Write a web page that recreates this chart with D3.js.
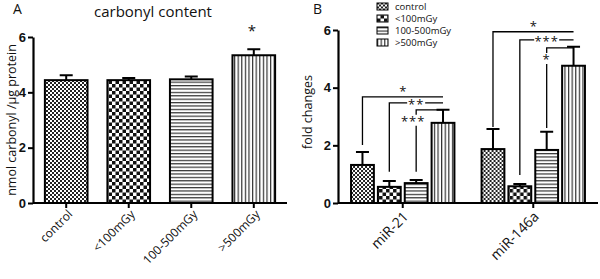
<!DOCTYPE html>
<html>
<head>
<meta charset="utf-8">
<script src="https://cdn.jsdelivr.net/npm/d3@7"></script>
<style>
  body { margin: 0; background: #fff; }
  text { font-family: "Open Sans", "Liberation Sans", sans-serif; fill: #111; }
</style>
</head>
<body>
<div id="chart-area"></div>
<script>
// ---- data ----
const doses = ["control", "<100mGy", "100-500mGy", ">500mGy"]
const carbonylMean = [4.44, 4.44, 4.47, 5.34]
const carbonylErr = [0.18, 0.08, 0.10, 0.22]
const carbonylSig = ["", "", "", "*"]

const genes = ["miR-21", "miR-146a"]
const foldMean = [[1.32, 0.56, 0.69, 2.78], [1.87, 0.58, 1.84, 4.76]]
const foldErr = [[0.45, 0.20, 0.11, 0.45], [0.70, 0.08, 0.63, 0.66]]
// brackets: gene, left bar, right bar, level (y units), drop end (y units), label, label place
const bracketGene = [0, 0, 0, 1, 1, 1]
const bracketFrom = [0, 1, 2, 0, 1, 2]
const bracketTo = [3, 3, 3, 3, 3, 3]
const bracketLevel = [3.68, 3.47, 3.23, 5.94, 5.66, 5.38]
const bracketDrop = [2.01, 1.08, 1.08, 2.64, 0.97, 2.60]
const bracketLabel = ["*", "**", "***", "*", "***", "*"]
const bracketPlace = ["above", "inline", "side", "above", "inline", "side"]

const yTicks = [0, 2, 4, 6]
const patterns = ["fine", "checker", "hlines", "vlines"]

const svg = d3.select("#chart-area").append("svg")
  .attr("width", 600).attr("height", 279)

// ---- patterns ----
const defs = svg.append("defs")
const pFine = defs.append("pattern").attr("id", "fine").attr("patternUnits", "userSpaceOnUse")
  .attr("width", 4).attr("height", 4)
pFine.append("rect").attr("width", 4).attr("height", 4).attr("fill", "#fff")
pFine.append("rect").attr("width", 2).attr("height", 2).attr("fill", "#222")
pFine.append("rect").attr("x", 2).attr("y", 2).attr("width", 2).attr("height", 2).attr("fill", "#222")

const pCheck = defs.append("pattern").attr("id", "checker").attr("patternUnits", "userSpaceOnUse")
  .attr("width", 7).attr("height", 7)
pCheck.append("rect").attr("width", 7).attr("height", 7).attr("fill", "#fff")
pCheck.append("rect").attr("width", 3.5).attr("height", 3.5).attr("fill", "#111")
pCheck.append("rect").attr("x", 3.5).attr("y", 3.5).attr("width", 3.5).attr("height", 3.5).attr("fill", "#111")

const pH = defs.append("pattern").attr("id", "hlines").attr("patternUnits", "userSpaceOnUse")
  .attr("width", 4).attr("height", 3.4)
pH.append("rect").attr("width", 4).attr("height", 3.4).attr("fill", "#fff")
pH.append("rect").attr("width", 4).attr("height", 1.2).attr("fill", "#333")

const pV = defs.append("pattern").attr("id", "vlines").attr("patternUnits", "userSpaceOnUse")
  .attr("width", 3.6).attr("height", 4)
pV.append("rect").attr("width", 3.6).attr("height", 4).attr("fill", "#fff")
pV.append("rect").attr("width", 1.2).attr("height", 4).attr("fill", "#333")

function styleAxis(g) {
  g.selectAll(".domain").attr("stroke", "#000").attr("stroke-width", 2.2)
  g.selectAll(".tick line").attr("stroke", "#000").attr("stroke-width", 2)
}

function yAxisText(g) {
  g.selectAll(".tick text").attr("font-size", 13).attr("font-weight", "bold")
    .style("font-family", "'Liberation Sans', sans-serif").attr("fill", "#111")
}

// ================= Panel A =================
const yA = d3.scaleLinear().domain([0, 6]).range([203, 37])
const xA = d3.scaleBand().domain(doses).range([33, 287]).paddingInner(0.318).paddingOuter(0.19)

const gA = svg.append("g")

gA.selectAll(".barA").data(doses).join("rect")
  .attr("x", d => xA(d))
  .attr("y", (d, i) => yA(carbonylMean[i]))
  .attr("width", xA.bandwidth())
  .attr("height", (d, i) => yA(0) - yA(carbonylMean[i]))
  .attr("fill", (d, i) => `url(#${patterns[i]})`)
  .attr("stroke", "#000").attr("stroke-width", 2)

gA.selectAll(".errA").data(doses).join("path")
  .attr("d", (d, i) => {
    const cx = xA(d) + xA.bandwidth() / 2
    const top = yA(carbonylMean[i] + carbonylErr[i])
    return `M${cx},${yA(carbonylMean[i])}V${top}M${cx - 6.5},${top}H${cx + 6.5}`
  })
  .attr("stroke", "#000").attr("stroke-width", 2).attr("fill", "none")

gA.selectAll(".sigA").data(doses).join("text")
  .attr("x", d => xA(d) + xA.bandwidth() / 2 - 2)
  .attr("y", (d, i) => yA(carbonylMean[i] + carbonylErr[i]) - 13)
  .attr("text-anchor", "middle")
  .attr("font-size", 15)
  .text((d, i) => carbonylSig[i])

gA.append("g")
  .attr("transform", "translate(33,0)")
  .call(d3.axisLeft(yA).tickValues(yTicks).tickFormat(d3.format("d")).tickSize(5).tickSizeOuter(0).tickPadding(2))
  .call(styleAxis)
  .call(yAxisText)

gA.append("g")
  .attr("transform", `translate(0,${yA(0)})`)
  .call(d3.axisBottom(xA).tickSize(5).tickSizeOuter(0))
  .call(styleAxis)
  .call(g => g.select(".domain").attr("d", `M33,0H287`))
  .call(g => g.selectAll(".tick text")
    .attr("font-size", 12)
    .style("font-family", "'Open Sans', sans-serif").attr("fill", "#111")
    .attr("text-anchor", "end")
    .attr("transform", "translate(4,9) rotate(-45)")
    .attr("dy", "0.35em").attr("y", 0).attr("x", 0))

gA.append("text").attr("x", 153).attr("y", 17).attr("text-anchor", "middle")
  .attr("font-size", 15).text("carbonyl content")
gA.append("text").attr("x", 13).attr("y", 14).attr("font-size", 14).text("A")
gA.append("text").attr("transform", "translate(16,120) rotate(-90)")
  .attr("text-anchor", "middle").attr("font-size", 12.5).text("nmol carbonyl /µg protein")

// ================= Panel B =================
const yB = d3.scaleLinear().domain([0, 6]).range([203, 30])
const x0 = d3.scaleBand().domain(genes).range([338, 598]).paddingInner(0.208).paddingOuter(0.1)
const x1 = d3.scaleBand().domain(doses).range([0, x0.bandwidth()]).paddingInner(0.15)

const gB = svg.append("g")

const groups = gB.selectAll(".grp").data(genes).join("g")
  .attr("transform", d => `translate(${x0(d)},0)`)

groups.each(function (gene, gi) {
  const g = d3.select(this)
  g.selectAll("rect").data(doses).join("rect")
    .attr("x", d => x1(d))
    .attr("y", (d, i) => yB(foldMean[gi][i]))
    .attr("width", x1.bandwidth())
    .attr("height", (d, i) => yB(0) - yB(foldMean[gi][i]))
    .attr("fill", (d, i) => `url(#${patterns[i]})`)
    .attr("stroke", "#000").attr("stroke-width", 2)
  g.selectAll("path").data(doses).join("path")
    .attr("d", (d, i) => {
      const cx = x1(d) + x1.bandwidth() / 2
      const top = yB(foldMean[gi][i] + foldErr[gi][i])
      return `M${cx},${yB(foldMean[gi][i])}V${top}M${cx - 6.5},${top}H${cx + 6.5}`
    })
    .attr("stroke", "#000").attr("stroke-width", 2).attr("fill", "none")
})

// significance brackets
const bx = (gi, bi) => x0(genes[gi]) + x1(doses[bi]) + x1.bandwidth() / 2
bracketLabel.forEach((lab, k) => {
  const gi = bracketGene[k]
  const xl = bx(gi, bracketFrom[k]), xr = bx(gi, bracketTo[k])
  const yl = yB(bracketLevel[k]), yd = yB(bracketDrop[k])
  const place = bracketPlace[k]
  const tw = lab.length * 7 + 4
  const b = gB.append("g").attr("stroke", "#000").attr("stroke-width", 1.3).attr("fill", "none")
  if (place === "inline") {
    const mid = (xl + xr) / 2
    b.append("path").attr("d", `M${xl},${yd}V${yl}H${mid - tw / 2}M${mid + tw / 2},${yl}H${xr}`)
    gB.append("text").attr("x", mid).attr("y", yl + 6).attr("text-anchor", "middle")
      .attr("font-size", 13).attr("letter-spacing", 1).text(lab)
  } else if (place === "side") {
    const ty = yl + 10
    b.append("path").attr("d", `M${xl},${yd}V${ty + 6}M${xl},${ty - 5}V${yl}H${xr}`)
    gB.append("text").attr("x", xl - (lab.length > 1 ? 3 : 0)).attr("y", ty + 6).attr("text-anchor", "middle")
      .attr("font-size", 13).attr("letter-spacing", 1).text(lab)
  } else {
    b.append("path").attr("d", `M${xl},${yd}V${yl}H${xr}`)
    gB.append("text").attr("x", (xl + xr) / 2).attr("y", yl - 1).attr("text-anchor", "middle")
      .attr("font-size", 13).text(lab)
  }
})

gB.append("g")
  .attr("transform", "translate(338,0)")
  .call(d3.axisLeft(yB).tickValues(yTicks).tickFormat(d3.format("d")).tickSize(5).tickSizeOuter(0).tickPadding(2))
  .call(styleAxis)
  .call(yAxisText)

gB.append("g")
  .attr("transform", `translate(0,${yB(0)})`)
  .call(d3.axisBottom(x0).tickSize(5).tickSizeOuter(0))
  .call(styleAxis)
  .call(g => g.select(".domain").attr("d", `M338,0H598`))
  .call(g => g.selectAll(".tick text")
    .attr("font-size", 14)
    .style("font-family", "'Open Sans', sans-serif").attr("fill", "#111")
    .attr("text-anchor", "end")
    .attr("transform", "translate(3,11) rotate(-45)")
    .attr("dy", "0.35em").attr("y", 0).attr("x", 0))

gB.append("text").attr("x", 313).attr("y", 14).attr("font-size", 14).text("B")
gB.append("text").attr("transform", "translate(312,112) rotate(-90)")
  .attr("text-anchor", "middle").attr("font-size", 12.5).text("fold changes")

// legend
const legend = gB.selectAll(".leg").data(doses).join("g")
  .attr("transform", (d, i) => `translate(377,${6.5 + i * 12})`)
legend.append("rect").attr("x", 0).attr("y", -3.5).attr("width", 11).attr("height", 7)
  .attr("fill", (d, i) => `url(#${patterns[i]})`).attr("stroke", "#000").attr("stroke-width", 1)
legend.append("text").attr("x", 18).attr("y", 0).attr("dy", "0.35em")
  .attr("font-size", 9.5).text(d => d)
</script>
</body>
</html>
